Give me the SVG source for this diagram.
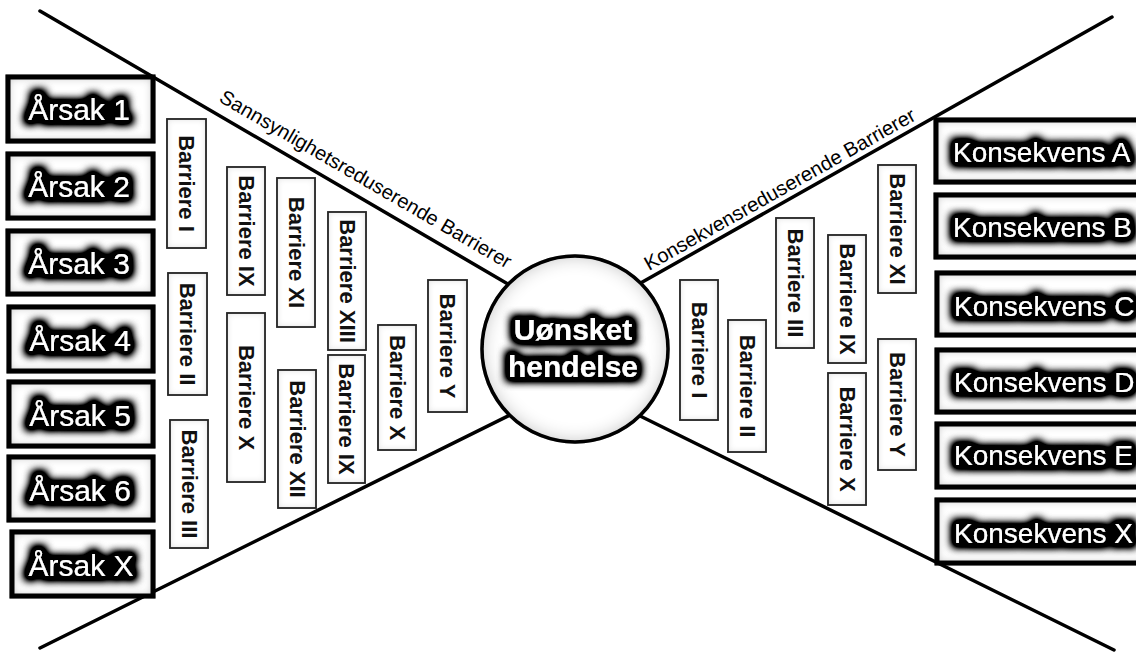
<svg xmlns="http://www.w3.org/2000/svg" width="1136" height="652" viewBox="0 0 1136 652">
  <style>
    .bg { fill: #ffffff; }
    .edge { stroke: #000; stroke-width: 3.5; stroke-linecap: round; fill: none; }
    .bigbox { fill: #ffffff; stroke: #000; stroke-width: 5; filter: url(#rimDark); }
    .bigtxt { font-family: "Liberation Sans", Arial, sans-serif; fill: #ffffff; filter: url(#halo); }
    .arsak { font-size: 30px; text-anchor: middle; }
    .kons { font-size: 28px; }
    .bar { fill: #ffffff; stroke: #2a2a2a; stroke-width: 1.8; filter: url(#rimLight); }
    .bartxt { font-family: "Liberation Sans", Arial, sans-serif; font-weight: bold; font-size: 22px; fill: #111; text-anchor: middle; dominant-baseline: central; }
    .lbl { font-family: "Liberation Sans", Arial, sans-serif; font-size: 20px; fill: #000; }
    .hub { fill: #ffffff; stroke: #000; stroke-width: 3.5; filter: url(#rimHub); }
    .hubtxt { font-family: "Liberation Sans", Arial, sans-serif; font-weight: bold; font-size: 30px; fill: #ffffff; text-anchor: middle; filter: url(#halo); }
  </style>
  <defs>
    <filter id="halo" x="-30%" y="-70%" width="160%" height="240%">
      <feMorphology in="SourceAlpha" operator="dilate" radius="3.5" result="d"/>
      <feGaussianBlur in="d" stdDeviation="4" result="b"/>
      <feComponentTransfer in="b" result="b2"><feFuncA type="linear" slope="2.2"/></feComponentTransfer>
      <feMerge><feMergeNode in="b2"/><feMergeNode in="SourceGraphic"/></feMerge>
    </filter>
    <filter id="rimDark" x="-5%" y="-10%" width="110%" height="120%">
      <feMorphology in="SourceAlpha" operator="erode" radius="3" result="e"/>
      <feGaussianBlur in="e" stdDeviation="5" result="eb"/>
      <feComposite in="SourceAlpha" in2="eb" operator="out" result="rim"/>
      <feColorMatrix in="rim" type="matrix" values="0 0 0 0 0  0 0 0 0 0  0 0 0 0 0  0 0 0 0.55 0" result="rimc"/>
      <feMerge><feMergeNode in="SourceGraphic"/><feMergeNode in="rimc"/></feMerge>
    </filter>
    <filter id="rimLight" x="-10%" y="-5%" width="120%" height="110%">
      <feMorphology in="SourceAlpha" operator="erode" radius="1" result="e"/>
      <feGaussianBlur in="e" stdDeviation="3" result="eb"/>
      <feComposite in="SourceAlpha" in2="eb" operator="out" result="rim"/>
      <feColorMatrix in="rim" type="matrix" values="0 0 0 0 0  0 0 0 0 0  0 0 0 0 0  0 0 0 0.3 0" result="rimc"/>
      <feMerge><feMergeNode in="SourceGraphic"/><feMergeNode in="rimc"/></feMerge>
    </filter>
    <filter id="rimHub" x="-5%" y="-5%" width="110%" height="110%">
      <feMorphology in="SourceAlpha" operator="erode" radius="2" result="e"/>
      <feGaussianBlur in="e" stdDeviation="9" result="eb"/>
      <feComposite in="SourceAlpha" in2="eb" operator="out" result="rim"/>
      <feColorMatrix in="rim" type="matrix" values="0 0 0 0 0  0 0 0 0 0  0 0 0 0 0  0 0 0 0.5 0" result="rimc"/>
      <feMerge><feMergeNode in="SourceGraphic"/><feMergeNode in="rimc"/></feMerge>
    </filter>
  </defs>

  <rect class="bg" x="0" y="0" width="1136" height="652"/>

  <g id="connectors">
    <line class="edge" x1="40" y1="11" x2="520" y2="291"/>
    <line class="edge" x1="40" y1="648" x2="520" y2="410"/>
    <line class="edge" x1="1112" y1="17" x2="630" y2="289"/>
    <line class="edge" x1="1114" y1="650" x2="630" y2="411"/>
  </g>

  <g id="labels">
    <text class="lbl" transform="translate(218,101) rotate(30.2)" textLength="334" lengthAdjust="spacingAndGlyphs">Sannsynlighetsreduserende Barrierer</text>
    <text class="lbl" transform="translate(649,271) rotate(-29.5)" textLength="308" lengthAdjust="spacingAndGlyphs">Konsekvensreduserende Barrierer</text>
  </g>

  <g id="hub">
    <circle class="hub" cx="575" cy="349" r="93"/>
    <text class="hubtxt" x="573" y="340">Uønsket</text>
    <text class="hubtxt" x="573" y="377">hendelse</text>
  </g>

  <g id="arsak-1"><rect class="bigbox" x="8" y="77" width="145" height="64"/><text class="bigtxt arsak" x="79" y="120">Årsak 1</text></g>
  <g id="arsak-2"><rect class="bigbox" x="8" y="154" width="145" height="64"/><text class="bigtxt arsak" x="79" y="197">Årsak 2</text></g>
  <g id="arsak-3"><rect class="bigbox" x="8" y="231" width="145" height="63"/><text class="bigtxt arsak" x="79" y="274">Årsak 3</text></g>
  <g id="arsak-4"><rect class="bigbox" x="9" y="307" width="144" height="64"/><text class="bigtxt arsak" x="80" y="351">Årsak 4</text></g>
  <g id="arsak-5"><rect class="bigbox" x="9" y="382" width="144" height="64"/><text class="bigtxt arsak" x="80" y="426">Årsak 5</text></g>
  <g id="arsak-6"><rect class="bigbox" x="9" y="457" width="144" height="63"/><text class="bigtxt arsak" x="80" y="501">Årsak 6</text></g>
  <g id="arsak-x"><rect class="bigbox" x="12" y="532" width="141" height="64"/><text class="bigtxt arsak" x="81" y="576">Årsak X</text></g>

  <g id="konsekvens-a"><rect class="bigbox" x="936" y="120" width="215" height="62"/><text class="bigtxt kons" x="953" y="162">Konsekvens A</text></g>
  <g id="konsekvens-b"><rect class="bigbox" x="936" y="195" width="215" height="62"/><text class="bigtxt kons" x="953" y="237">Konsekvens B</text></g>
  <g id="konsekvens-c"><rect class="bigbox" x="937" y="273" width="215" height="62"/><text class="bigtxt kons" x="954" y="316">Konsekvens C</text></g>
  <g id="konsekvens-d"><rect class="bigbox" x="937" y="350" width="215" height="62"/><text class="bigtxt kons" x="954" y="392">Konsekvens D</text></g>
  <g id="konsekvens-e"><rect class="bigbox" x="937" y="424" width="215" height="63"/><text class="bigtxt kons" x="954" y="465">Konsekvens E</text></g>
  <g id="konsekvens-x"><rect class="bigbox" x="937" y="500" width="215" height="63"/><text class="bigtxt kons" x="954" y="543">Konsekvens X</text></g>

  <g id="lb-1"><rect class="bar" x="167" y="119" width="39" height="129"/><text class="bartxt" transform="translate(186.5,183.5) rotate(90)">Barriere I</text></g>
  <g id="lb-2"><rect class="bar" x="168" y="273" width="39" height="122"/><text class="bartxt" transform="translate(187.5,334) rotate(90)">Barriere II</text></g>
  <g id="lb-3"><rect class="bar" x="170" y="420" width="38" height="128"/><text class="bartxt" transform="translate(189,484) rotate(90)">Barriere III</text></g>
  <g id="lb-9a"><rect class="bar" x="227" y="167" width="38" height="128"/><text class="bartxt" transform="translate(246,231) rotate(90)">Barriere IX</text></g>
  <g id="lb-10a"><rect class="bar" x="227" y="313" width="38" height="169"/><text class="bartxt" transform="translate(246,397.5) rotate(90)">Barriere X</text></g>
  <g id="lb-11"><rect class="bar" x="277" y="178" width="38" height="149"/><text class="bartxt" transform="translate(296,252.5) rotate(90)">Barriere XI</text></g>
  <g id="lb-12"><rect class="bar" x="278" y="370" width="38" height="138"/><text class="bartxt" transform="translate(297,439) rotate(90)">Barriere XII</text></g>
  <g id="lb-13"><rect class="bar" x="328" y="212" width="38" height="138"/><text class="bartxt" transform="translate(347,281) rotate(90)">Barriere XIII</text></g>
  <g id="lb-9b"><rect class="bar" x="328" y="355" width="37" height="128"/><text class="bartxt" transform="translate(346.5,419) rotate(90)">Barriere IX</text></g>
  <g id="lb-10b"><rect class="bar" x="378" y="325" width="38" height="125"/><text class="bartxt" transform="translate(397,387.5) rotate(90)">Barriere X</text></g>
  <g id="lb-y"><rect class="bar" x="428" y="280" width="39" height="132"/><text class="bartxt" transform="translate(447.5,346) rotate(90)">Barriere Y</text></g>

  <g id="rb-1"><rect class="bar" x="680" y="280" width="38" height="140"/><text class="bartxt" transform="translate(699,350) rotate(90)">Barriere I</text></g>
  <g id="rb-2"><rect class="bar" x="728" y="320" width="38" height="132"/><text class="bartxt" transform="translate(747,386) rotate(90)">Barriere II</text></g>
  <g id="rb-3"><rect class="bar" x="776" y="218" width="38" height="130"/><text class="bartxt" transform="translate(795,283) rotate(90)">Barriere III</text></g>
  <g id="rb-9"><rect class="bar" x="828" y="235" width="38" height="128"/><text class="bartxt" transform="translate(847,299) rotate(90)">Barriere IX</text></g>
  <g id="rb-10"><rect class="bar" x="828" y="373" width="38" height="132"/><text class="bartxt" transform="translate(847,439) rotate(90)">Barriere X</text></g>
  <g id="rb-11"><rect class="bar" x="878" y="165" width="38" height="128"/><text class="bartxt" transform="translate(897,229) rotate(90)">Barriere XI</text></g>
  <g id="rb-y"><rect class="bar" x="878" y="339" width="38" height="131"/><text class="bartxt" transform="translate(897,404.5) rotate(90)">Barriere Y</text></g>
</svg>
